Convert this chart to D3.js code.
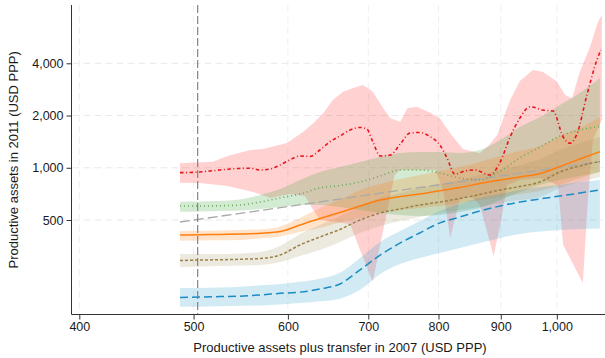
<!DOCTYPE html>
<html>
<head>
<meta charset="utf-8">
<script src="https://cdn.jsdelivr.net/npm/d3@7"></script>
<style>
  html, body { margin: 0; padding: 0; background: #fff; }
  svg { display: block; font-family: "Liberation Sans", Arial, Helvetica, sans-serif; }
</style>
</head>
<body>
<svg id="chart" width="605" height="358"></svg>
<script>
// Axis ticks
const xTicks = [400, 500, 600, 700, 800, 900, 1000];
const yTicks = [500, 1000, 2000, 4000];
const cutoff = 504; // transfer-eligibility threshold (vertical marker)

// Common evaluation grid (assets plus transfer, 2007)
const gridX = [487, 506, 526, 547, 569, 591, 614, 638, 663, 689, 716, 744, 772, 802, 833, 865, 899, 933, 969, 1006, 1044, 1084];

// Blue series (long dash) with confidence band
const blueMid = [179, 180, 181, 182, 185, 189, 192, 200, 214, 258, 314, 369, 421, 481, 520, 563, 602, 635, 661, 688, 715, 745];
const blueHi  = [203, 203, 204, 206, 210, 214, 220, 229, 248, 302, 374, 432, 493, 564, 618, 670, 706, 745, 775, 796, 828, 850];
const blueLo  = [158, 158, 159, 160, 161, 163, 166, 170, 176, 198, 244, 279, 302, 323, 345, 369, 394, 415, 429, 438, 444, 447];

// Olive series (short dash)
const oliveMid = [292, 294, 295, 297, 300, 314, 359, 399, 441, 500, 549, 579, 610, 635, 665, 701, 745, 780, 828, 946, 1024, 1087];
const oliveHi  = [318, 318, 318, 321, 327, 354, 415, 468, 527, 602, 670, 715, 765, 806, 850, 908, 971, 1038, 1124, 1266, 1389, 1505];
const oliveLo  = [268, 270, 272, 273, 275, 286, 310, 336, 374, 421, 462, 493, 520, 549, 571, 594, 627, 652, 679, 765, 828, 885];

// Orange series (solid)
const orangeMid = [410, 411, 413, 415, 419, 429, 468, 510, 552, 602, 652, 683, 706, 738, 770, 811, 850, 885, 927, 1017, 1124, 1238];
const orangeHi  = [432, 432, 435, 438, 442, 459, 513, 586, 656, 745, 806, 861, 908, 958, 1010, 1080, 1169, 1249, 1335, 1525, 1695, 1962];
const orangeLo  = [380, 381, 382, 384, 392, 402, 427, 450, 484, 513, 556, 571, 586, 602, 627, 652, 679, 706, 735, 796, 873, 946];

// Green series (dotted)
const greenMid = [602, 602, 604, 610, 635, 670, 706, 765, 790, 828, 896, 971, 971, 933, 873, 850, 958, 1139, 1317, 1525, 1651, 1730];
const greenHi  = [638, 639, 643, 656, 697, 754, 850, 946, 1010, 1080, 1154, 1217, 1233, 1233, 1217, 1266, 1446, 1718, 1962, 2300, 2698, 3291];
const greenLo  = [558, 560, 564, 567, 579, 594, 610, 610, 594, 571, 549, 534, 527, 534, 556, 586, 652, 725, 796, 850, 896, 946];

// Red series (dash-dot), estimated on its own points
const redX = [487, 496.5, 506, 516, 526, 537, 547, 558, 569, 580, 591, 602, 614, 626, 638, 650, 663, 676, 689, 698, 706, 716, 730, 744, 758, 772, 787, 802, 813, 825, 841, 857, 882, 899, 916, 933, 951, 974, 993, 1012, 1025, 1039, 1058, 1078, 1086];
const redY = [937, 939, 946, 958, 971, 984, 991, 993, 971, 984, 1038, 1109, 1170, 1162, 1266, 1408, 1525, 1651, 1707, 1673, 1414, 1170, 1185, 1371, 1587, 1597, 1515, 1353, 1139, 921, 958, 971, 908, 1080, 1505, 1936, 2248, 2152, 2124, 1505, 1384, 1580, 2627, 4179, 4772];
const redHiX = [487, 519, 534, 558, 572, 599, 618, 630, 642, 654, 667, 680, 693, 706, 720, 730, 744, 754, 768, 787, 802, 818, 838, 865, 879, 894, 916, 933, 956, 974, 1000, 1016, 1029, 1044, 1064, 1080, 1088];
const redHi  = [1062, 1084, 1170, 1266, 1283, 1390, 1614, 1804, 2060, 2458, 2744, 2883, 3000, 2744, 2210, 1928, 1843, 2201, 2248, 2082, 1928, 1580, 1283, 1212, 1335, 1545, 2458, 3163, 3660, 3578, 3142, 2627, 2514, 3564, 4966, 6919, 7593];
const redLoX = [487, 506, 534, 561, 580, 602, 620, 630, 638, 657, 676, 689, 706, 716, 725, 736, 744, 795, 807, 818, 825, 833, 849, 865, 888, 899, 911, 933, 969, 1002, 1012, 1050, 1060, 1070, 1088];
const redLo  = [820, 817, 785, 725, 670, 706, 688, 571, 500, 487, 474, 336, 220, 359, 549, 908, 971, 971, 745, 394, 500, 652, 697, 610, 310, 468, 796, 850, 873, 796, 359, 217, 652, 1446, 1885];

// Equality reference line (2011 assets = 2007 assets plus transfer)
const refX = [487, 1084];
const refY = [487, 1084];

const W = 605, H = 358;
const plot = { left: 71.5, right: 603, top: 5, bottom: 314.5 };

const svg = d3.select("#chart");

const x = d3.scalePow().exponent(0.05).domain([400, 1000]).range([79.3, 556.8]);
const y = d3.scaleLog().domain([500, 4000]).range([220, 63.3]);

svg.append("defs").append("clipPath").attr("id", "plotClip")
  .append("rect")
  .attr("x", plot.left).attr("y", plot.top)
  .attr("width", plot.right - plot.left).attr("height", plot.bottom - plot.top);

// Gridlines
const grid = svg.append("g").attr("class", "grid");
grid.selectAll("line.h").data(yTicks).join("line")
  .attr("x1", plot.left + 1).attr("x2", plot.right)
  .attr("y1", d => y(d)).attr("y2", d => y(d))
  .attr("stroke", "#e9e9e9").attr("stroke-width", 1).attr("stroke-dasharray", "7,4");
grid.selectAll("line.v").data(xTicks).join("line")
  .attr("x1", d => x(d)).attr("x2", d => x(d))
  .attr("y1", plot.top).attr("y2", plot.bottom)
  .attr("stroke", "#efefef").attr("stroke-width", 1).attr("stroke-dasharray", "7,4");

const g = svg.append("g").attr("clip-path", "url(#plotClip)");

// Bands
const bandGen = (lo, hi) => d3.area()
  .x((d, i) => x(gridX[i]))
  .y0((d, i) => y(lo[i]))
  .y1((d, i) => y(hi[i]))
  .curve(d3.curveMonotoneX)(gridX);

const edge = d3.line().x(d => x(d[0])).y(d => y(d[1]));
const redUpper = redHiX.map((v, i) => [v, redHi[i]]);
const redLower = redLoX.map((v, i) => [v, redLo[i]]).reverse();
g.append("path")
  .attr("d", edge(redUpper.concat(redLower)) + "Z")
  .attr("fill", "rgba(255,0,0,0.18)");

g.append("path").attr("d", bandGen(greenLo, greenHi)).attr("fill", "rgba(80,170,80,0.25)");
g.append("path").attr("d", bandGen(orangeLo, orangeHi)).attr("fill", "rgba(255,127,14,0.22)");
g.append("path").attr("d", bandGen(oliveLo, oliveHi)).attr("fill", "rgba(160,145,95,0.2)");
g.append("path").attr("d", bandGen(blueLo, blueHi)).attr("fill", "rgba(30,150,200,0.2)");

// Lines
const gridLine = vals => d3.line()
  .x((d, i) => x(gridX[i]))
  .y(d => y(d))
  .curve(d3.curveMonotoneX)(vals);

g.append("path")
  .attr("d", d3.line().x((d, i) => x(refX[i])).y(d => y(d))(refY))
  .attr("fill", "none").attr("stroke", "#a9a9a9").attr("stroke-width", 1.3)
  .attr("stroke-dasharray", "10,4");

g.append("path").attr("d", gridLine(blueMid))
  .attr("fill", "none").attr("stroke", "#1b8cc4").attr("stroke-width", 1.5)
  .attr("stroke-dasharray", "8,4");

g.append("path").attr("d", gridLine(oliveMid))
  .attr("fill", "none").attr("stroke", "#9a8148").attr("stroke-width", 1.5)
  .attr("stroke-dasharray", "3,2");

g.append("path").attr("d", gridLine(orangeMid))
  .attr("fill", "none").attr("stroke", "#ff7f0e").attr("stroke-width", 1.5);

g.append("path").attr("d", gridLine(greenMid))
  .attr("fill", "none").attr("stroke", "#6aa85c").attr("stroke-width", 1.6)
  .attr("stroke-dasharray", "1,3");

g.append("path")
  .attr("d", d3.line().x((d, i) => x(redX[i])).y(d => y(d)).curve(d3.curveMonotoneX)(redY))
  .attr("fill", "none").attr("stroke", "#e8141b").attr("stroke-width", 1.6)
  .attr("stroke-dasharray", "3.5,2.5,1,2.5");

// Threshold marker
svg.append("line")
  .attr("x1", x(cutoff)).attr("x2", x(cutoff))
  .attr("y1", plot.top).attr("y2", plot.bottom)
  .attr("stroke", "#7a7a7a").attr("stroke-width", 1.1).attr("stroke-dasharray", "8,3");

// Axes
const xAxis = d3.axisBottom(x).tickValues(xTicks).tickFormat(d3.format(",")).tickSize(5).tickPadding(3);
const yAxis = d3.axisLeft(y).tickValues(yTicks).tickFormat(d3.format(",")).tickSize(5).tickPadding(3);

const gx = svg.append("g").attr("transform", `translate(0,${plot.bottom})`).call(xAxis);
gx.select(".domain").attr("d", `M${plot.left},0H${plot.right + 2}`);
const gy = svg.append("g").attr("transform", `translate(${plot.left},0)`).call(yAxis);
gy.select(".domain").attr("d", `M0,${plot.top}V${plot.bottom}`);

[gx, gy].forEach(a => {
  a.select(".domain").attr("stroke", "#333").attr("stroke-width", 1);
  a.selectAll(".tick line").attr("stroke", "#333");
  a.selectAll(".tick text").attr("fill", "#1a1a1a").style("font-size", "12.5px")
    .style("font-family", "'Liberation Sans', Arial, Helvetica, sans-serif");
});

// Axis titles
svg.append("text")
  .attr("x", 340).attr("y", 352)
  .attr("text-anchor", "middle")
  .attr("fill", "#1a1a1a")
  .style("font-size", "13px")
  .text("Productive assets plus transfer in 2007 (USD PPP)");

svg.append("text")
  .attr("transform", `translate(18,${(plot.top + plot.bottom) / 2}) rotate(-90)`)
  .attr("text-anchor", "middle")
  .attr("fill", "#1a1a1a")
  .style("font-size", "13px")
  .text("Productive assets in 2011 (USD PPP)");
</script>
</body>
</html>
